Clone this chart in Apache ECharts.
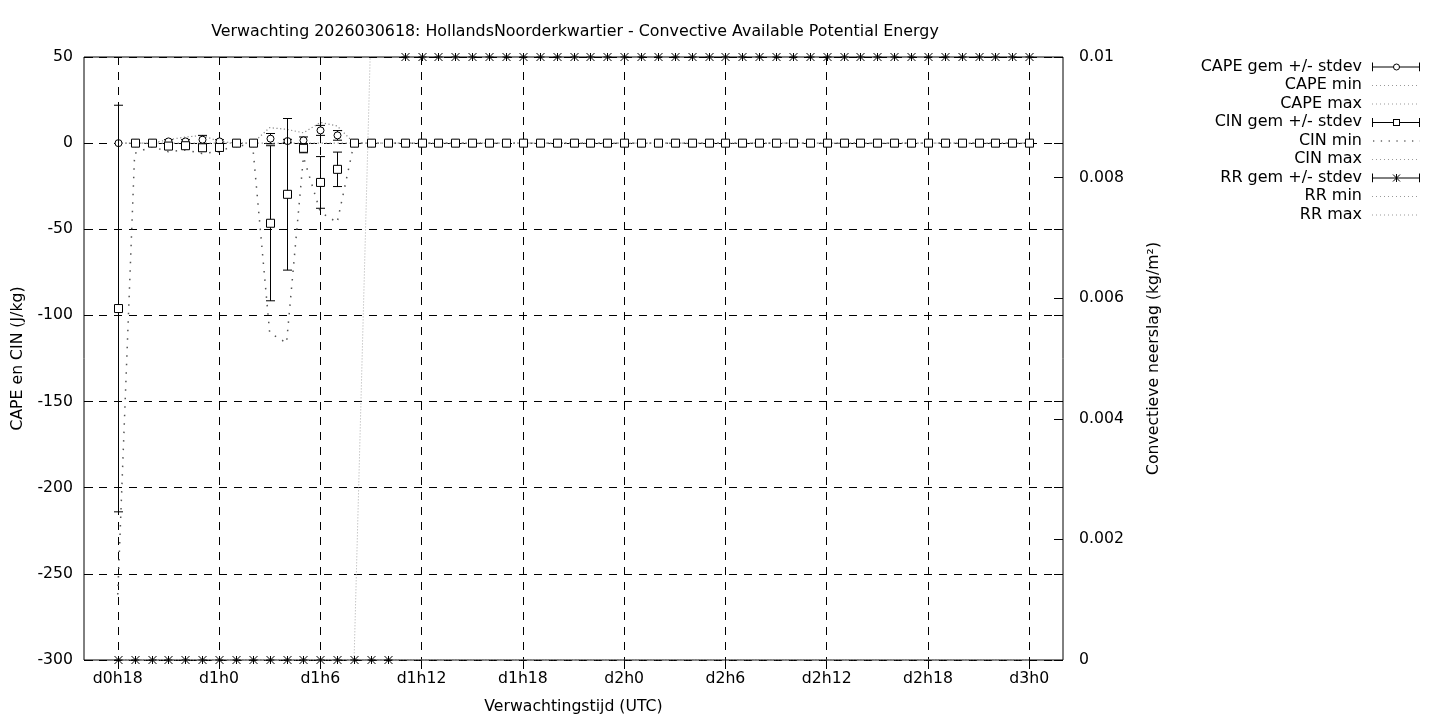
<!DOCTYPE html>
<html>
<head>
<meta charset="utf-8">
<script src="https://cdn.jsdelivr.net/npm/echarts@6/dist/echarts.min.js"></script>
<style>html,body{margin:0;padding:0;background:#fff}#c{width:1440px;height:720px}</style>
</head>
<body>
<div id="c"></div>
<script>
// ---------- data (hourly, forecast hours 18 .. 72) ----------
const hours = [18,19,20,21,22,23,24,25,26,27,28,29,30,31,32,33,34,35,36,37,38,39,40,41,42,43,44,45,
  46,47,48,49,50,51,52,53,54,55,56,57,58,59,60,61,62,63,64,65,66,67,68,69,70,71,72];
const capeMean = [0,0,0,1,1,2,1,0,0,2.6,1.2,1.6,7.4,4.5,0,0,0,0,0,0,0,0,0,0,0,0,0,0,0,0,0,0,0,0,0,0,0,0,0,0,0,0,0,0,0,0,0,0,0,0,0,0,0,0,0];
const capeSd   = [0,0,0,1,1,2.5,1,0,0,3,1,2,2.9,2.8,0,0,0,0,0,0,0,0,0,0,0,0,0,0,0,0,0,0,0,0,0,0,0,0,0,0,0,0,0,0,0,0,0,0,0,0,0,0,0,0,0];
const capeMin  = [0,0,0,0,0,0,0,0,0,0,0,0,0,0,0,0,0,0,0,0,0,0,0,0,0,0,0,0,0,0,0,0,0,0,0,0,0,0,0,0,0,0,0,0,0,0,0,0,0,0,0,0,0,0,0];
const capeMax  = [0,0,0,2,3.5,4.5,1,0,0,9,8,6,12,10,0,0,0,0,0,0,0,0,0,0,0,0,0,0,0,0,0,0,0,0,0,0,0,0,0,0,0,0,0,0,0,0,0,0,0,0,0,0,0,0,0];
const cinMean  = [-96,0,0,-1.7,-1.5,-2.7,-2.5,0,0,-46.5,-29.7,-3,-22.8,-15.2,0,0,0,0,0,0,0,0,0,0,0,0,0,0,0,0,0,0,0,0,0,0,0,0,0,0,0,0,0,0,0,0,0,0,0,0,0,0,0,0,0];
const cinSd    = [118,0,0,1.5,1.5,2,2,0,0,45,44,2.6,15,10,0,0,0,0,0,0,0,0,0,0,0,0,0,0,0,0,0,0,0,0,0,0,0,0,0,0,0,0,0,0,0,0,0,0,0,0,0,0,0,0,0];
const cinMin   = [-262,-6,-2,-5,-4,-6,-5,-1,-2,-110,-116,-8,-40,-46,0,0,0,0,0,0,0,0,0,0,0,0,0,0,0,0,0,0,0,0,0,0,0,0,0,0,0,0,0,0,0,0,0,0,0,0,0,0,0,0,0];
const cinMax   = [0,0,0,0,0,0,0,0,0,0,0,0,0,0,0,0,0,0,0,0,0,0,0,0,0,0,0,0,0,0,0,0,0,0,0,0,0,0,0,0,0,0,0,0,0,0,0,0,0,0,0,0,0,0,0];
const rrMean   = [0,0,0,0,0,0,0,0,0,0,0,0,0,0,0,0,0,0.01,0.01,0.01,0.01,0.01,0.01,0.01,0.01,0.01,0.01,0.01,0.01,0.01,0.01,0.01,0.01,0.01,0.01,0.01,0.01,0.01,0.01,0.01,0.01,0.01,0.01,0.01,0.01,0.01,0.01,0.01,0.01,0.01,0.01,0.01,0.01,0.01,0.01];
const rrSd     = [0,0,0,0,0,0,0,0,0,0,0,0,0,0,0,0,0,0,0,0,0,0,0,0,0,0,0,0,0,0,0,0,0,0,0,0,0,0,0,0,0,0,0,0,0,0,0,0,0,0,0,0,0,0,0];
const rrMin    = [0,0,0,0,0,0,0,0,0,0,0,0,0,0,0,0,0,0,0,0,0,0,0,0,0,0,0,0,0,0,0,0,0,0,0,0,0,0,0,0,0,0,0,0,0,0,0,0,0,0,0,0,0,0,0];
const rrMax    = [0,0,0,0,0,0,0,0,0,0,0,0,0,0,0,0.0105,0.0105,0.0105,0.0105,0.0105,0.0105,0.0105,0.0105,0.0105,0.0105,0.0105,0.0105,0.0105,0.0105,0.0105,0.0105,0.0105,0.0105,0.0105,0.0105,0.0105,0.0105,0.0105,0.0105,0.0105,0.0105,0.0105,0.0105,0.0105,0.0105,0.0105,0.0105,0.0105,0.0105,0.0105,0.0105,0.0105,0.0105,0.0105,0.0105];

const xTickHours  = [18,24,30,36,42,48,54,60,66,72];
const xTickLabels = ['d0h18','d1h0','d1h6','d1h12','d1h18','d2h0','d2h6','d2h12','d2h18','d3h0'];
const yLeftTicks  = ['-300','-250','-200','-150','-100','-50','0','50'];
const yRightTicks = ['0','0.002','0.004','0.006','0.008','0.01'];

const titleText = 'Verwachting 2026030618: HollandsNoorderkwartier - Convective Available Potential Energy';
const legendNames = ['CAPE gem +/- stdev','CAPE min','CAPE max','CIN gem +/- stdev','CIN min','CIN max','RR gem +/- stdev','RR min','RR max'];

// ---------- axis domain (hours 16 .. 74) ----------
const H0 = 16, H1 = 74;
const categories = [];
for (let h = H0; h <= H1; h++) categories.push(String(h));
const isTick = (idx) => xTickHours.indexOf(idx + H0) >= 0;

const FONT = 'DejaVu Sans';
const FS = 15.7;

function triples(mean, sd) { return hours.map((h, i) => [h - H0, mean[i], sd[i]]); }
function pairs(arr) { return hours.map((h, i) => [h - H0, arr[i]]); }

function errRender(kind) {
  return function (params, api) {
    const x = api.value(0), m = api.value(1), s = api.value(2);
    const p = api.coord([x, m]);
    const px = Math.round(p[0]) + 0.5;
    const st = { stroke: '#000', lineWidth: 1, fill: null };
    const ch = [];
    if (s > 0) {
      const t = api.coord([x, m + s])[1], b = api.coord([x, m - s])[1];
      ch.push({ type: 'line', shape: { x1: px, y1: t, x2: px, y2: b }, style: st });
      ch.push({ type: 'line', shape: { x1: px - 4.5, y1: t, x2: px + 4.5, y2: t }, style: st });
      ch.push({ type: 'line', shape: { x1: px - 4.5, y1: b, x2: px + 4.5, y2: b }, style: st });
    }
    const py = p[1];
    if (kind === 'circle') {
      ch.push({ type: 'circle', shape: { cx: px, cy: py, r: 3.5 }, style: { fill: '#fff', stroke: '#000', lineWidth: 1 } });
    } else if (kind === 'rect') {
      ch.push({ type: 'rect', shape: { x: px - 4, y: py - 4, width: 8, height: 8 }, style: { fill: '#fff', stroke: '#000', lineWidth: 1 } });
    } else {
      const r = 4;
      ch.push({ type: 'line', shape: { x1: px - r, y1: py, x2: px + r, y2: py }, style: st });
      ch.push({ type: 'line', shape: { x1: px, y1: py - r, x2: px, y2: py + r }, style: st });
      ch.push({ type: 'line', shape: { x1: px - r, y1: py - r, x2: px + r, y2: py + r }, style: st });
      ch.push({ type: 'line', shape: { x1: px - r, y1: py + r, x2: px + r, y2: py - r }, style: st });
    }
    return { type: 'group', children: ch };
  };
}

function svgIcon(inner) {
  return 'image://data:image/svg+xml;charset=utf-8,' + encodeURIComponent(
    '<svg xmlns="http://www.w3.org/2000/svg" width="53" height="10" viewBox="0 0 53 10">' + inner + '</svg>');
}
const barBase = '<line x1="5" y1="5.5" x2="53" y2="5.5" stroke="#000" stroke-width="1"/>' +
  '<line x1="5.5" y1="1" x2="5.5" y2="10" stroke="#000" stroke-width="1"/>' +
  '<line x1="52.5" y1="1" x2="52.5" y2="10" stroke="#000" stroke-width="1"/>';
const icons = {
  circle: svgIcon(barBase + '<circle cx="29.5" cy="5.5" r="3" fill="#fff" stroke="#000"/>'),
  rect: svgIcon(barBase + '<rect x="26.5" y="2.5" width="6" height="6" fill="#fff" stroke="#000"/>'),
  star: svgIcon(barBase + '<g stroke="#000"><line x1="26" y1="2" x2="33" y2="9"/><line x1="26" y1="9" x2="33" y2="2"/><line x1="29.5" y1="1.5" x2="29.5" y2="9.5"/></g>'),
  dot: svgIcon('<line x1="5" y1="5.5" x2="53" y2="5.5" stroke="#999" stroke-width="1" stroke-dasharray="1,3"/>'),
  sparse: svgIcon('<line x1="6" y1="5.5" x2="53" y2="5.5" stroke="#666" stroke-width="1.3" stroke-dasharray="1.3,6.5"/>')
};
const legendIcons = [icons.circle, icons.dot, icons.dot, icons.rect, icons.sparse, icons.dot, icons.star, icons.dot, icons.dot];

const legends = legendNames.map((n, i) => ({
  data: [{ name: n, icon: legendIcons[i] }],
  orient: 'vertical', align: 'right', right: 20, top: 58.5 + 18.5 * i,
  padding: 0, itemWidth: 53, itemHeight: 10, selectedMode: false,
  textStyle: { fontFamily: FONT, fontSize: 16, color: '#000' }
}));

function dotted(name, data, yIdx, color, dash, width) {
  return {
    name, type: 'line', data, yAxisIndex: yIdx, symbol: 'none', showSymbol: false, silent: true,
    lineStyle: { color, width: width || 1, type: dash }, z: 3, clip: true
  };
}

const dashGrid = { color: '#000', width: 1, type: [8, 7] };

const option = {
  animation: false,
  backgroundColor: '#fff',
  textStyle: { fontFamily: FONT },
  title: {
    text: titleText, left: 570, top: 19, textAlign: 'center',
    textStyle: { fontFamily: FONT, fontSize: 15.85, fontWeight: 'normal', color: '#000' }
  },
  legend: legends,
  grid: { left: 84, right: 377, top: 57, bottom: 60, show: true, borderColor: '#000', borderWidth: 1, backgroundColor: 'transparent' },
  xAxis: [
    {
      type: 'category', data: categories, boundaryGap: false, position: 'bottom',
      axisLine: { show: false },
      axisTick: { show: true, inside: true, length: 9, interval: (i) => isTick(i), lineStyle: { color: '#000' } },
      axisLabel: {
        interval: (i) => isTick(i), margin: 11, color: '#000', fontFamily: FONT, fontSize: FS,
        formatter: (v) => { const k = xTickHours.indexOf(+v); return k >= 0 ? xTickLabels[k] : ''; }
      },
      splitLine: { show: true, interval: (i) => isTick(i), lineStyle: dashGrid },
      name: 'Verwachtingstijd (UTC)', nameLocation: 'middle', nameGap: 39,
      nameTextStyle: { fontFamily: FONT, fontSize: FS, color: '#000' }
    },
    {
      type: 'category', data: categories, boundaryGap: false, position: 'top',
      axisLine: { show: false },
      axisTick: { show: true, inside: true, length: 9, interval: (i) => isTick(i), lineStyle: { color: '#000' } },
      axisLabel: { show: false }, splitLine: { show: false }
    }
  ],
  yAxis: [
    {
      type: 'value', min: -300, max: 50, interval: 50, position: 'left',
      axisLine: { show: false },
      axisTick: { show: true, inside: true, length: 9, lineStyle: { color: '#000' } },
      axisLabel: { margin: 11, color: '#000', fontFamily: FONT, fontSize: FS,
        formatter: (v) => { const k = Math.round((v + 300) / 50); return yLeftTicks[k]; } },
      splitLine: { show: true, lineStyle: dashGrid },
      name: 'CAPE en CIN (J/kg)', nameLocation: 'middle', nameGap: 58, nameRotate: 90,
      nameTextStyle: { fontFamily: FONT, fontSize: FS, color: '#000' }
    },
    {
      type: 'value', min: 0, max: 0.01, interval: 0.002, position: 'right',
      axisLine: { show: false },
      axisTick: { show: true, inside: true, length: 9, lineStyle: { color: '#000' } },
      axisLabel: { margin: 16, color: '#000', fontFamily: FONT, fontSize: FS,
        formatter: (v) => yRightTicks[Math.round(v / 0.002)] },
      splitLine: { show: false },
      name: 'Convectieve neerslag (kg/m²)', nameLocation: 'middle', nameGap: 83, nameRotate: 90,
      nameTextStyle: { fontFamily: FONT, fontSize: FS, color: '#000' }
    },
    {
      type: 'value', min: -300, max: 50, interval: 50, position: 'right',
      axisLine: { show: false },
      axisTick: { show: true, inside: true, length: 9, lineStyle: { color: '#000' } },
      axisLabel: { show: false }, splitLine: { show: false }
    }
  ],
  series: [
    dotted('CAPE min', pairs(capeMin), 0, '#999', [1, 3]),
    dotted('CAPE max', pairs(capeMax), 0, '#888', [1.2, 2.5], 1.2),
    dotted('CIN min', pairs(cinMin), 0, '#555', [1.5, 7], 1.5),
    dotted('CIN max', pairs(cinMax), 0, '#999', [1, 3]),
    dotted('RR min', pairs(rrMin), 1, '#aaa', [1, 2]),
    dotted('RR max', pairs(rrMax), 1, '#aaa', [1, 2]),
    { name: 'CAPE gem +/- stdev', type: 'custom', yAxisIndex: 0, clip: false, z: 5,
      renderItem: errRender('circle'), data: triples(capeMean, capeSd), encode: { x: 0, y: 1 } },
    { name: 'CIN gem +/- stdev', type: 'custom', yAxisIndex: 0, clip: false, z: 6,
      renderItem: errRender('rect'), data: triples(cinMean, cinSd), encode: { x: 0, y: 1 } },
    { name: 'RR gem +/- stdev', type: 'custom', yAxisIndex: 1, clip: false, z: 7,
      renderItem: errRender('star'), data: triples(rrMean, rrSd), encode: { x: 0, y: 1 } }
  ]
};

const chart = echarts.init(document.getElementById('c'), null, { renderer: 'canvas' });
chart.setOption(option);
</script>
</body>
</html>
